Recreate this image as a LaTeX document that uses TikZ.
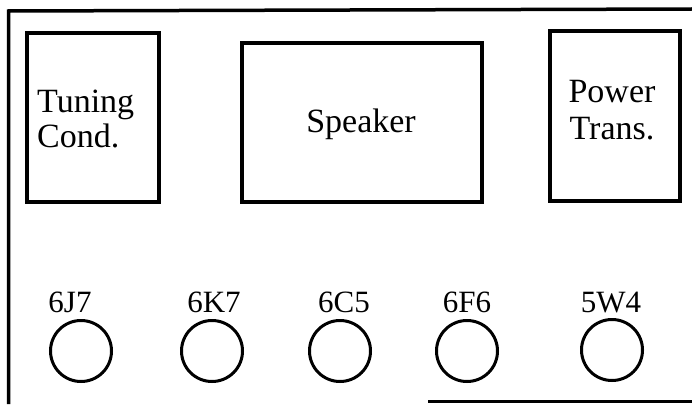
\documentclass[tikz,border=0pt]{standalone}
\usepackage{fontspec}
\setmainfont{Liberation Serif}
\begin{document}
\begin{tikzpicture}[x=1pt,y=-1pt,
  frameline/.style={line width=3.5pt},
  part/.style={draw,line width=3.3pt,minimum width=0pt,inner sep=0pt},
  boxtext/.style={font=\fontsize{34}{38}\selectfont,inner sep=0pt},
  tubelabel/.style={font=\fontsize{31}{34}\selectfont,inner sep=0pt,anchor=base},
  socket/.style={draw,circle,line width=3pt,minimum size=61pt,inner sep=0pt}]
\useasboundingbox (0,0) rectangle (692,404);
% outer frame
\coordinate (tl) at (8.5,11);
\coordinate (tr) at (692,9);
\coordinate (bl) at (8.5,404);
\coordinate (bm) at (428,401.5);
\coordinate (br) at (692,401.5);
\draw[frameline] (tr) -- (tl) -- (bl);
\draw[frameline] (bm) -- (br);
% parts
\node[part,minimum width=132pt,minimum height=169pt] (tuning) at (93,117.5) {};
\node[part,minimum width=240pt,minimum height=159pt] (speaker) at (362,122.5) {};
\node[part,minimum width=130pt,minimum height=170pt] (power) at (615,116) {};
\node[boxtext,anchor=base west] (tun1) at (37,112) {Tuning};
\node[boxtext,anchor=base west] (tun2) at (37,147) {Cond.};
\node[boxtext,anchor=base] (spk) at (361,132) {Speaker};
\node[boxtext,anchor=base] (pow1) at (612,102) {Power};
\node[boxtext,anchor=base] (pow2) at (612,139) {Trans.};
% tubes
\node[tubelabel] (l1) at (70,312) {6J7};
\node[tubelabel] (l2) at (214,312) {6K7};
\node[tubelabel] (l3) at (344,312) {6C5};
\node[tubelabel] (l4) at (467,312) {6F6};
\node[tubelabel] (l5) at (611,312) {5W4};
\node[socket] (s1) at (81,351) {};
\node[socket] (s2) at (212,351) {};
\node[socket] (s3) at (340,351) {};
\node[socket] (s4) at (467,351) {};
\node[socket] (s5) at (612,350) {};
\end{tikzpicture}
\end{document}
